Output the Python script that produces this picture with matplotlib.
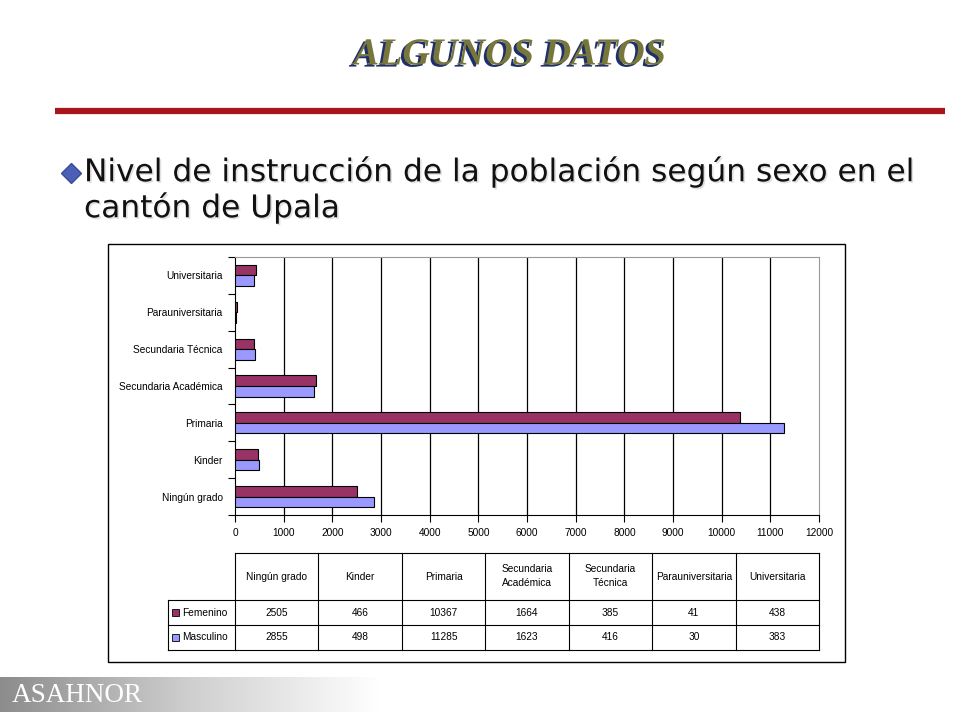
import matplotlib
matplotlib.use("Agg")
import matplotlib.pyplot as plt
import matplotlib.patheffects as pe
from matplotlib.colors import LinearSegmentedColormap
import numpy as np

categories = ["Ningún grado", "Kinder", "Primaria", "Secundaria Académica",
              "Secundaria Técnica", "Parauniversitaria", "Universitaria"]
table_headers = ["Ningún grado", "Kinder", "Primaria", "Secundaria\nAcadémica",
                 "Secundaria\nTécnica", "Parauniversitaria", "Universitaria"]
femenino = [2505, 466, 10367, 1664, 385, 41, 438]
masculino = [2855, 498, 11285, 1623, 416, 30, 383]
series_names = ["Femenino", "Masculino"]
x_ticks = list(range(0, 12001, 1000))

C_FEM = "#993366"
C_MAS = "#9999FF"
FS = 7.3

W, H = 960, 720
fig = plt.figure(figsize=(W / 100, H / 100), dpi=100)
fig.patch.set_facecolor("white")

# footer gradient (drawn first, below overlay)
grad = np.linspace(0, 1, 256).reshape(1, -1)
gax = fig.add_axes([0, (H - 712) / H, 380 / W, 35 / H])
cmap = LinearSegmentedColormap.from_list("g", ["#8c8c8c", "#cfcfcf", "#ffffff"])
gax.imshow(grad, aspect="auto", cmap=cmap, extent=[0, 1, 0, 1])
gax.axis("off")
gax.set_zorder(0)

# overlay axes in pixel coords
ov = fig.add_axes([0, 0, 1, 1])
ov.set_xlim(0, W)
ov.set_ylim(H, 0)
ov.axis("off")
ov.set_zorder(5)

ov.text(12, 695, "ASAHNOR", family="Liberation Serif", fontsize=19.5,
        color="white", va="center", ha="left", zorder=5)

# title with shadow
ov.text(510, 55, "ALGUNOS DATOS", family="Liberation Serif", fontsize=27.5,
        fontweight="bold", style="italic", color="#77773c", ha="center", va="center",
        path_effects=[pe.SimplePatchShadow(offset=(-2, -1.5), shadow_rgbFace="#1f2f6a", alpha=1),
                      pe.Normal()])

# red rule
ov.plot([55, 945], [111, 111], color="#a8161b", lw=4.5, solid_capstyle="butt")

# bullet + text
ov.plot([71], [173], marker="D", markersize=10, color="#4a5fb5",
        markeredgecolor="#3a4c9a")
shadow = [pe.SimplePatchShadow(offset=(1.2, -1.2), shadow_rgbFace="#aaaaaa", alpha=0.35),
          pe.Normal()]
ov.text(84, 172, "Nivel de instrucción de la población según sexo en el",
        family="DejaVu Sans", fontsize=22.5, color="#111111", va="center", ha="left",
        path_effects=shadow)
ov.text(84, 208, "cantón de Upala",
        family="DejaVu Sans", fontsize=22.5, color="#111111", va="center", ha="left",
        path_effects=shadow)

# chart outer box
ov.add_patch(plt.Rectangle((108, 244), 845 - 108, 662 - 244, fill=False,
                           edgecolor="black", lw=1))

# bar chart
L, R, T, B = 235, 819, 257, 515
ax = fig.add_axes([L / W, (H - B) / H, (R - L) / W, (B - T) / H])
ax.set_zorder(6)
n = len(categories)
y = np.arange(n)
bh = 0.285
ax.barh(y + bh / 2, femenino, height=bh, color=C_FEM, edgecolor="black", lw=0.8, zorder=3)
ax.barh(y - bh / 2, masculino, height=bh, color=C_MAS, edgecolor="black", lw=0.8, zorder=3)
ax.set_xlim(0, 12000)
ax.set_ylim(-0.5, n - 0.5)
ax.set_xticks(x_ticks)
ax.set_xticklabels([str(v) for v in x_ticks], family="Liberation Sans", fontsize=FS)
ax.set_yticks(y)
ax.set_yticklabels(categories, family="Liberation Sans", fontsize=FS)
ax.set_yticks(np.arange(-0.5, n, 1), minor=True)
ax.tick_params(axis="y", which="major", length=0, pad=9)
ax.tick_params(axis="y", which="minor", length=5, width=0.8, direction="out")
ax.tick_params(axis="x", length=5, width=0.8, direction="out", pad=4)
for v in x_ticks[1:-1]:
    ax.axvline(v, color="black", lw=0.9, zorder=1)
ax.spines["left"].set_color("black")
ax.spines["bottom"].set_color("black")
ax.spines["top"].set_color("#999999")
ax.spines["right"].set_color("#999999")
for s in ax.spines.values():
    s.set_linewidth(0.8)

# data table
colw = (R - L) / n
top, hdr_bot, r1_bot, r2_bot = 553, 600, 625, 650
lab_left = 168
lw = 0.8
ov.plot([L, R], [top, top], color="black", lw=lw)
ov.plot([lab_left, R], [hdr_bot, hdr_bot], color="black", lw=lw)
ov.plot([lab_left, R], [r1_bot, r1_bot], color="black", lw=lw)
ov.plot([lab_left, R], [r2_bot, r2_bot], color="black", lw=lw)
ov.plot([lab_left, lab_left], [hdr_bot, r2_bot], color="black", lw=lw)
for i in range(n + 1):
    xx = L + i * colw
    ov.plot([xx, xx], [top, r2_bot], color="black", lw=lw)
for i, h in enumerate(table_headers):
    ov.text(L + (i + 0.5) * colw, (top + hdr_bot) / 2, h, ha="center", va="center",
            family="Liberation Sans", fontsize=FS, linespacing=1.5)
rows = [(series_names[0], femenino, C_FEM, hdr_bot, r1_bot),
        (series_names[1], masculino, C_MAS, r1_bot, r2_bot)]
for name, vals, col, y0, y1 in rows:
    yc = (y0 + y1) / 2
    ov.add_patch(plt.Rectangle((lab_left + 4, yc - 3.5), 7, 7, facecolor=col,
                               edgecolor="black", lw=0.6))
    ov.text(lab_left + 14, yc, name, ha="left", va="center",
            family="Liberation Sans", fontsize=FS)
    for i, v in enumerate(vals):
        ov.text(L + (i + 0.5) * colw, yc, str(v), ha="center", va="center",
                family="Liberation Sans", fontsize=FS)

fig.savefig("out.png", dpi=100)
